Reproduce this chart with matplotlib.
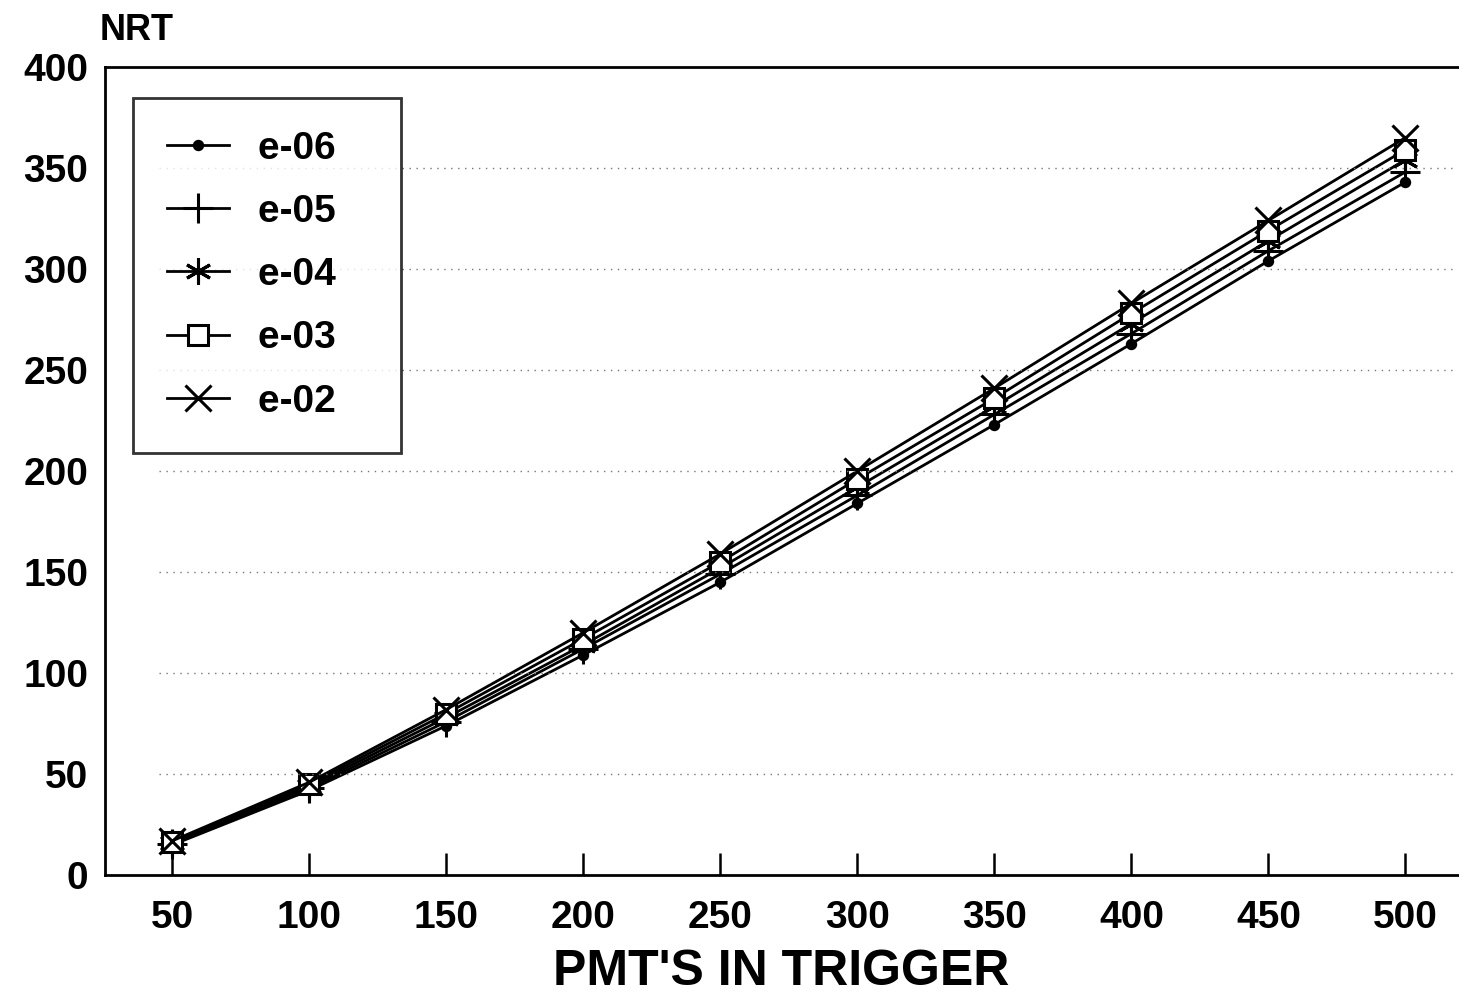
import numpy as np
import matplotlib
matplotlib.use("Agg")
import matplotlib.pyplot as plt

# PMT's in trigger vs NRT for several rates
pmts = [50, 100, 150, 200, 250, 300, 350, 400, 450, 500]
nrt_e06 = [15, 42, 74, 109, 145, 184, 223, 263, 304, 343]
nrt_e05 = [15.5, 43, 76, 112, 149, 188, 228, 268, 309, 348]
nrt_e04 = [16, 44, 78, 114, 152, 192, 232, 273, 314, 354]
nrt_e03 = [16.5, 45, 80, 117, 155, 196, 236, 278, 319, 359]
nrt_e02 = [17, 46, 82, 120, 159, 200, 241, 283, 324, 365]
labels = ["e-06", "e-05", "e-04", "e-03", "e-02"]

plt.rcParams['font.family'] = ['Liberation Sans', 'DejaVu Sans']
plt.rcParams['font.weight'] = 'bold'

fig = plt.figure(figsize=(14.59, 9.98), dpi=100)
ax = fig.add_axes([0.072, 0.123, 0.927, 0.810])

series = [nrt_e06, nrt_e05, nrt_e04, nrt_e03, nrt_e02]
markers = ['o', '+', (6, 2, 0), 's', 'x']
sizes = [6, 22, 19, 15, 19]
for ys, lab, m, ms in zip(series, labels, markers, sizes):
    ax.plot(pmts, ys, color='black', lw=2.0, marker=m, ms=ms,
            mfc='white' if m == 's' else 'black', mec='black', mew=2.2,
            label=lab + "   ")  # trailing space widens the box like the original

ax.set_xlim(25.5, 519)
ax.set_ylim(0, 400)
ax.set_xticks(pmts)
ax.set_yticks(range(0, 401, 50))
ax.tick_params(axis='x', direction='in', length=16, width=1.8, labelsize=28, pad=18)
ax.tick_params(axis='y', length=0, labelsize=28, pad=12)
for s in ax.spines.values():
    s.set_linewidth(2.0)
ax.spines['right'].set_visible(False)

for y in range(50, 351, 50):
    ax.axhline(y, xmin=0.04, xmax=1, color='#777777', lw=1.0, ls=(0, (1, 4)))

ax.set_xlabel("PMT'S IN TRIGGER", fontsize=36, fontweight='bold', labelpad=9)
fig.text(0.068, 0.952, "NRT", fontsize=26, fontweight='bold', ha='left', va='bottom')

leg = ax.legend(loc='upper left', bbox_to_anchor=(0.021, 0.962), fontsize=28,
                frameon=True, fancybox=False, edgecolor='black',
                handlelength=1.6, labelspacing=0.70, borderpad=0.85,
                handletextpad=0.75, borderaxespad=0)
leg.get_frame().set_linewidth(2.0)

fig.savefig("out.png", dpi=100)
